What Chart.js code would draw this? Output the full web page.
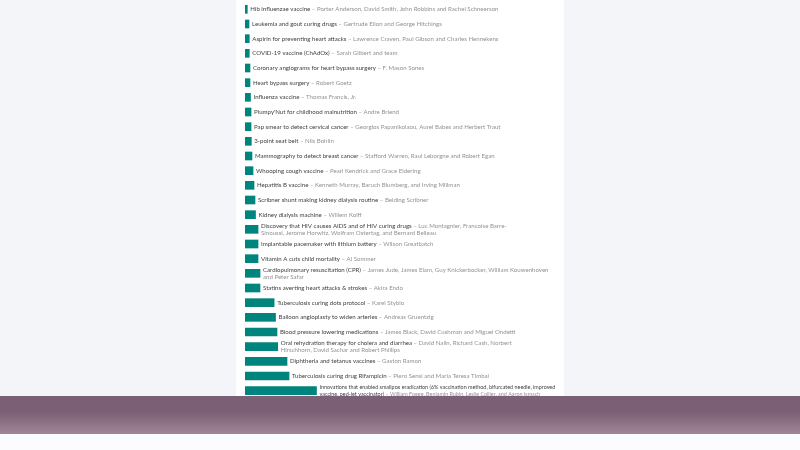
<!DOCTYPE html>
<html><head><meta charset="utf-8">
<script src="https://cdn.jsdelivr.net/npm/chart.js@4"></script>
<style>
html,body{margin:0;padding:0;width:800px;height:450px;overflow:hidden;background:#f4f5f8;}
#panel{position:absolute;left:236px;top:0;width:328px;height:396px;background:#fff;}
#wrap{position:absolute;left:245px;top:0;width:319px;height:400px;}
#band{position:absolute;left:0;top:396px;width:800px;height:38px;background:linear-gradient(#7b5f74 0%,#7b5f74 42%,#a08698 100%);z-index:5;}
#below{position:absolute;left:0;top:434px;width:800px;height:16px;background:#fbfcfd;}
</style></head>
<body>
<div id="panel"></div>
<div id="wrap"><canvas id="c" width="319" height="400"></canvas></div>
<div id="band"></div>
<div id="below"></div>
<script>
const innovations = [
"Hib influenzae vaccine","Leukemia and gout curing drugs","Aspirin for preventing heart attacks","COVID-19 vaccine (ChAdOx)",
"Coronary angiograms for heart bypass surgery","Heart bypass surgery","Influenza vaccine","Plumpy'Nut for childhood malnutrition",
"Pap smear to detect cervical cancer","3-point seat belt","Mammography to detect breast cancer","Whooping cough vaccine",
"Hepatitis B vaccine","Scribner shunt making kidney dialysis routine","Kidney dialysis machine",
"Discovery that HIV causes AIDS and of HIV curing drugs","Implantable pacemaker with lithium battery","Vitamin A cuts child mortality",
"Cardiopulmonary resuscitation (CPR)","Statins averting heart attacks & strokes","Tuberculosis curing dots protocol",
"Balloon angioplasty to widen arteries","Blood pressure lowering medications","Oral rehydration therapy for cholera and diarrhea",
"Diphtheria and tetanus vaccines","Tuberculosis curing drug Rifampicin",
"Innovations that enabled smallpox eradication (6% vaccination method, bifurcated needle, improved\nvaccine, ped-jet vaccinator)"
];
const scientists = [
"Porter Anderson, David Smith, John Robbins and Rachel Schneerson","Gertrude Elion and George Hitchings",
"Lawrence Craven, Paul Gibson and Charles Hennekens","Sarah Gilbert and team","F. Mason Sones","Robert Goetz",
"Thomas Francis, Jr.","Andre Briend","Georgios Papanikolaou, Aurel Babes and Herbert Traut","Nils Bohlin",
"Stafford Warren, Raul Leborgne and Robert Egan","Pearl Kendrick and Grace Eldering",
"Kenneth Murray, Baruch Blumberg, and Irving Millman","Belding Scribner","Willem Kolff",
"Luc Montagnier, Francoise Barre-\nSinoussi, Jerome Horwitz, Wolfram Ostertag, and Bernard Belleau","Wilson Greatbatch",
"Al Sommer","James Jude, James Elam, Guy Knickerbocker, William Kouwenhoven\nand Peter Safar","Akira Endo","Karel Styblo",
"Andreas Gruentzig","James Black, David Cushman and Miguel Ondetti","David Nalin, Richard Cash, Norbert\nHirschhorn, David Sachar and Robert Phillips",
"Gaston Ramon","Piero Sensi and Maria Teresa Timbal","William Foege, Benjamin Rubin, Leslie Collier, and Aaron Ismach"
];
// lives saved (millions)
const livesSaved = [4.2,7.3,7.8,7.8,9.1,9.1,10,11,11,11.5,12.7,14.6,16.4,18.2,19.1,23.7,23.7,23.7,27.3,27.3,53,55.5,58.2,59.5,76.4,80.1,130];

const labelPlugin = {
  id:'barLabels',
  afterDatasetsDraw(chart){
    const ctx = chart.ctx;
    const meta = chart.getDatasetMeta(0);
    const baseSize = 6.1, baseLh = 7.5, rightLimit = 311;
    ctx.save();
    ctx.textBaseline = 'middle';
    meta.data.forEach((el, i) => {
      const toks = [];
      const addText = (s, color) => {
        s.split('\n').forEach((seg, k) => {
          seg.split(' ').filter(w => w.length).forEach((w, j) => {
            toks.push({t:w, c:color, br:(k > 0 && j === 0)});
          });
        });
      };
      addText(innovations[i], '#3f3f3f');
      addText('\u2013 ' + scientists[i], '#929292');
      const lines = [[]];
      toks.forEach(tk => {
        if (tk.br) lines.push([]);
        lines[lines.length-1].push(tk);
      });
      const x0 = el.x + 3;
      // shrink to fit if widest line exceeds available width
      ctx.font = baseSize + 'px Lato';
      let sp = ctx.measureText(' ').width;
      const widest = Math.max(...lines.map(l => l.reduce((a, tk, j) => a + (j ? sp : 0) + ctx.measureText(tk.t).width, 0)));
      const avail = rightLimit - x0;
      const k = widest > avail ? avail / widest : 1;
      const size = baseSize * k, lh = baseLh * (k < 1 ? 0.94 : 1);
      ctx.font = size + 'px Lato';
      sp = ctx.measureText(' ').width;
      let y = el.y - (lines.length - 1) * lh / 2;
      lines.forEach(line => {
        let x = x0;
        line.forEach((tk, j) => {
          if (j > 0) x += sp;
          ctx.fillStyle = tk.c;
          ctx.fillText(tk.t, x, y);
          x += ctx.measureText(tk.t).width;
        });
        y += lh;
      });
    });
    ctx.restore();
  }
};

new Chart(document.getElementById('c'), {
  type:'bar',
  data:{labels:innovations, datasets:[{data:livesSaved, backgroundColor:'#00847e', barThickness:8, borderWidth:0}]},
  options:{
    indexAxis:'y', responsive:false, animation:false,
    layout:{padding:{top:2,bottom:2,left:0,right:0}},
    plugins:{legend:{display:false}, tooltip:{enabled:false}},
    scales:{
      x:{display:false, min:0, max:580},
      y:{display:false}
    }
  },
  plugins:[labelPlugin]
});
</script>
</body></html>
